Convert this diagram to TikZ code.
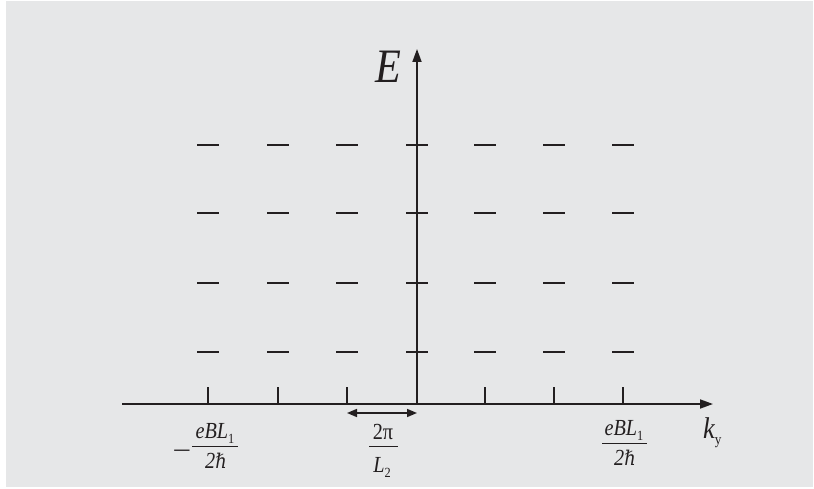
\documentclass[tikz,border=0pt]{standalone}
\usepackage{fontspec}
\usepackage{graphicx}
\setmainfont{Liberation Serif}
\newfontfamily\tfont[FakeStretch=0.88]{Liberation Serif}
\newfontfamily\hbarfont[Scale=0.88,FakeStretch=0.88]{DejaVu Serif}
\usetikzlibrary{arrows.meta}
\definecolor{bgc}{HTML}{E6E7E8}
\definecolor{ink}{HTML}{231F20}
\newcommand{\hb}{{\hbarfont\itshape ℏ}}
\newcommand{\sbs}[1]{\raisebox{-5pt}{\fontsize{14}{14}\selectfont #1}}
\begin{document}
\begin{tikzpicture}[x=1pt,y=-1pt,
  axis/.style={draw=ink,line width=1.8pt,-{Triangle[length=13pt,width=9pt]}},
  tick/.style={draw=ink,line width=1.4pt},
  level/.style={draw=ink,line width=2.4pt},
  bar/.style={draw=ink,line width=0.9pt},
  lab/.style={inner sep=0pt,text=ink,anchor=base,font=\tfont\fontsize{23}{25}\selectfont\itshape},
  up/.style={font=\tfont\fontsize{23}{25}\selectfont\upshape}]
\useasboundingbox (0,0) rectangle (814,489);
\fill[white] (0,0) rectangle (814,489);
\fill[bgc] (6,1) rectangle (813,487);
\coordinate (O) at (417,404);
\coordinate (xs) at (122,404);
\coordinate (xe) at (713,404);
\coordinate (ye) at (417,49);
\foreach \xx in {208,278,347,417,485,554,623} {
  \draw[tick] (\xx,404) -- ++(0,-17);
  \foreach \yy in {145,213,283,352}
    \draw[level] (\xx-11,\yy) -- ++(22,0);
}
\draw[axis] (xs) -- (xe);
\draw[axis] (O) -- (ye);
\coordinate (d1) at (347,413);
\coordinate (d2) at (417,413);
\draw[ink,line width=1.6pt,{Triangle[length=10pt,width=8pt]}-{Triangle[length=10pt,width=8pt]}] (d1) -- (d2);
\node[lab,font=\tfont\fontsize{48}{50}\selectfont\itshape] (E) at (388,83) {E};
\node[lab,anchor=base west] (k) at (703,438) {{\fontsize{30}{30}\selectfont\itshape k}\raisebox{-6pt}{\fontsize{15}{15}\selectfont\upshape y}};
% left fraction
\node[lab,font=\fontsize{22}{24}\selectfont\upshape] (lm) at (182,459) {\scalebox{1.5}[1.2]{\char"2212}};
\node[lab] (ln) at (215,438) {eBL\sbs{\upshape 1}};
\node[lab] (ld) at (216,468) {2\hb};
\coordinate (lb1) at (192,446);
\coordinate (lb2) at (238,446);
\draw[bar] (lb1) -- (lb2);
% middle fraction
\node[lab,up] (mn) at (383,439) {2π};
\node[lab] (md) at (382,472) {L\sbs{\upshape 2}};
\coordinate (mb1) at (369,446);
\coordinate (mb2) at (398,446);
\draw[bar] (mb1) -- (mb2);
% right fraction
\node[lab] (rn) at (624,435) {eBL\sbs{\upshape 1}};
\node[lab] (rd) at (625,465) {2\hb};
\coordinate (rb1) at (602,443);
\coordinate (rb2) at (647,443);
\draw[bar] (rb1) -- (rb2);
\end{tikzpicture}
\end{document}
